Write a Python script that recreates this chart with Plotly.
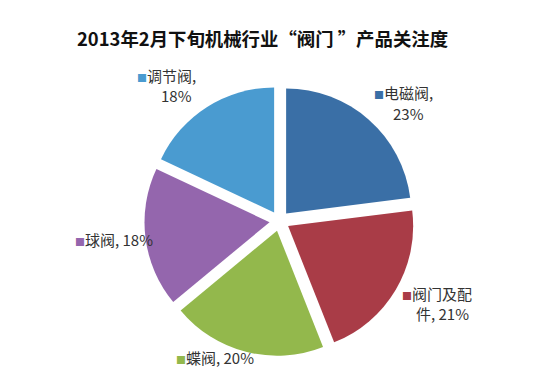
import plotly.graph_objects as go

categories = ["电磁阀", "阀门及配件", "蝶阀", "球阀", "调节阀"]
values = [23, 21, 20, 18, 18]
colors = ["#3a6fa6", "#a93c47", "#93b84c", "#9466ad", "#4a9bd0"]
title_text = "2013年2月下旬机械行业“阀门 ”产品关注度"

W, H = 554, 387
# label placement in pixels: list of (x_center, y_center) per text line, and wrap style
label_pos = {
    "电磁阀": ([(403, 92), (408, 113)], "br"),
    "阀门及配件": ([(437, 293), (442, 313)], "split"),
    "蝶阀": ([(215, 357)], "inline"),
    "球阀": ([(114, 239)], "inline"),
    "调节阀": ([(166, 75), (176, 95)], "br"),
}

fig = go.Figure(go.Pie(
    labels=categories,
    values=values,
    sort=False,
    direction="clockwise",
    rotation=0,
    pull=[0.08] * len(values),
    marker=dict(colors=colors, line=dict(width=0)),
    textinfo="none",
    hoverinfo="label+percent",
    domain=dict(x=[0.2605, 0.7485], y=[0.08, 0.778]),
    showlegend=False,
))

annotations = [dict(
    text="<b>" + title_text + "</b>",
    x=262 / W, y=1 - 38 / H, xref="paper", yref="paper",
    showarrow=False, xanchor="center", yanchor="middle",
    font=dict(family="Noto Sans CJK SC", size=18.4, color="#111111"),
)]

for cat, val, col in zip(categories, values, colors):
    pts, style = label_pos[cat]
    sq = f'<span style="color:{col};font-size:10px">■</span>'
    if style == "br":
        lines = [f"{sq}{cat},", f"{val}%"]
    elif style == "split":
        lines = [f"{sq}{cat[:-1]}", f"{cat[-1]}, {val}%"]
    else:
        lines = [f"{sq}{cat}, {val}%"]
    for txt, (px, py) in zip(lines, pts):
        annotations.append(dict(
            text=txt, x=px / W, y=1 - py / H, xref="paper", yref="paper",
            showarrow=False, xanchor="center", yanchor="middle", align="center",
            font=dict(family="Noto Sans CJK SC", size=15, color="#333333"),
        ))

fig.update_layout(
    width=W, height=H,
    margin=dict(l=0, r=0, t=0, b=0),
    paper_bgcolor="white", plot_bgcolor="white",
    annotations=annotations,
)

fig.write_html(
    "out.html",
    config={"displayModeBar": False},
    post_script="document.body.style.margin='0';document.body.style.overflow='hidden';",
)
